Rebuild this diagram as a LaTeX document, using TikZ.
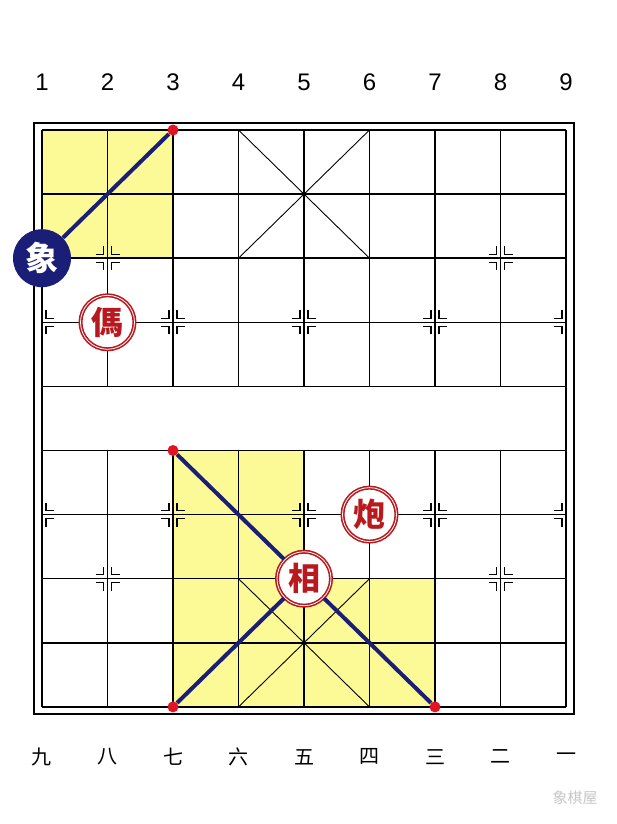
\documentclass[tikz,border=0pt]{standalone}
\usepackage{fontspec}
\usepackage{xcolor}
\setmainfont{Liberation Sans}
\newfontfamily\cjk{Noto Sans CJK SC}

\definecolor{boardyellow}{RGB}{252,250,150}
\definecolor{navy}{RGB}{26,30,118}
\definecolor{piecered}{RGB}{185,25,30}
\definecolor{dotred}{RGB}{225,20,35}

\tikzset{
  gridline/.style={line width=1.4pt},
  markline/.style={line width=1.2pt},
  redpiece/.style={circle, draw=piecered, line width=1.6pt, double=white, double distance=0.8pt,
    fill=white, minimum size=54pt, inner sep=0pt, text=piecered,
    font=\cjk\bfseries\fontsize{32}{32}\selectfont},
  bluepiece/.style={circle, fill=navy, minimum size=58pt, inner sep=0pt, text=white,
    font=\cjk\bfseries\fontsize{33}{33}\selectfont},
  reddot/.style={circle, fill=dotred, minimum size=11pt, inner sep=0pt},
  movepath/.style={draw=navy, line width=4pt}
}

\begin{document}
\begin{tikzpicture}[x=65.5pt, y=64.1pt, >=stealth]

            \useasboundingbox[fill=white] (-42pt,130pt) rectangle (574pt,-694pt);

            % Yellow squares
            \fill[boardyellow] (0,0) rectangle (2,-2);
            \fill[boardyellow] (2,-5) rectangle (4,-9);
            \fill[boardyellow] (4,-7) rectangle (6,-9);

            % Board
            \draw[line width=1.6pt] ([shift={(-8pt,7pt)}]0,0) rectangle ([shift={(8pt,-7pt)}]8,-9);
            \foreach \j in {0,...,9}
            \draw[gridline] (0,-\j) -- (8,-\j);
            \foreach \i in {0,8}
            \draw[gridline] (\i,0) -- (\i,-9);
            \foreach \i in {1,...,7}
            {
            \draw[gridline] (\i,0) -- (\i,-4);
            \draw[gridline] (\i,-5) -- (\i,-9);
            }

            % Palaces
            \draw[line width=0.9pt] (3,0) -- (5,-2);
            \draw[line width=0.9pt] (5,0) -- (3,-2);
            \draw[line width=0.9pt] (3,-7) -- (5,-9);
            \draw[line width=0.9pt] (5,-7) -- (3,-9);

            % Position marks (last two: left side shown, right side shown)
            \foreach \i/\j/\lf/\rt in {1/2/1/1, 7/2/1/1, 1/7/1/1, 7/7/1/1,
                                       2/3/1/1, 4/3/1/1, 6/3/1/1, 2/6/1/1, 4/6/1/1, 6/6/1/1,
                                       0/3/0/1, 0/6/0/1, 8/3/1/0, 8/6/1/0}
            \foreach \sx/\sy in {1/1, 1/-1, -1/1, -1/-1}
            {
            \pgfmathtruncatemacro\show{(\sx>0)*\rt + (\sx<0)*\lf}
            \ifnum\show=1
            \draw[markline] ([shift={(\sx*12pt,\sy*4pt)}]\i,-\j) -- ([shift={(\sx*4pt,\sy*4pt)}]\i,-\j)
                            -- ([shift={(\sx*4pt,\sy*12pt)}]\i,-\j);
            \fi
            }

            % File numbers
            \foreach \i in {1,...,9}
            \node[font=\fontsize{24}{24}\selectfont] (top\i) at (\i-1,0.75) {\i};
            \foreach \n [count=\i from 0] in {九,八,七,六,五,四,三,二,一}
            \node[font=\cjk\fontsize{20}{20}\selectfont] (bot\i) at (\i,-9.78) {\n};

            % Pieces
            \node[bluepiece] (xiangB) at (0,-2) {象};
            \node[redpiece] (ma) at (1,-3) {傌};
            \node[redpiece] (pao) at (5,-6) {炮};
            \node[redpiece] (xiangR) at (4,-7) {相};

            % Target points
            \node[reddot] (dotA) at (2,0) {};
            \node[reddot] (dotB) at (2,-5) {};
            \node[reddot] (dotC) at (2,-9) {};
            \node[reddot] (dotD) at (6,-9) {};

            % Moves
            \draw[movepath] (xiangB) -- (dotA);
            \draw[movepath] (dotB) -- (xiangR);
            \draw[movepath] (xiangR) -- (dotD);
            \draw[movepath] (dotC) -- (xiangR);

            % Watermark
            \node[text=black!22, font=\cjk\fontsize{15}{15}\selectfont] (mark) at (8.14,-10.41) {象棋屋};

        \end{tikzpicture}
\end{document}
